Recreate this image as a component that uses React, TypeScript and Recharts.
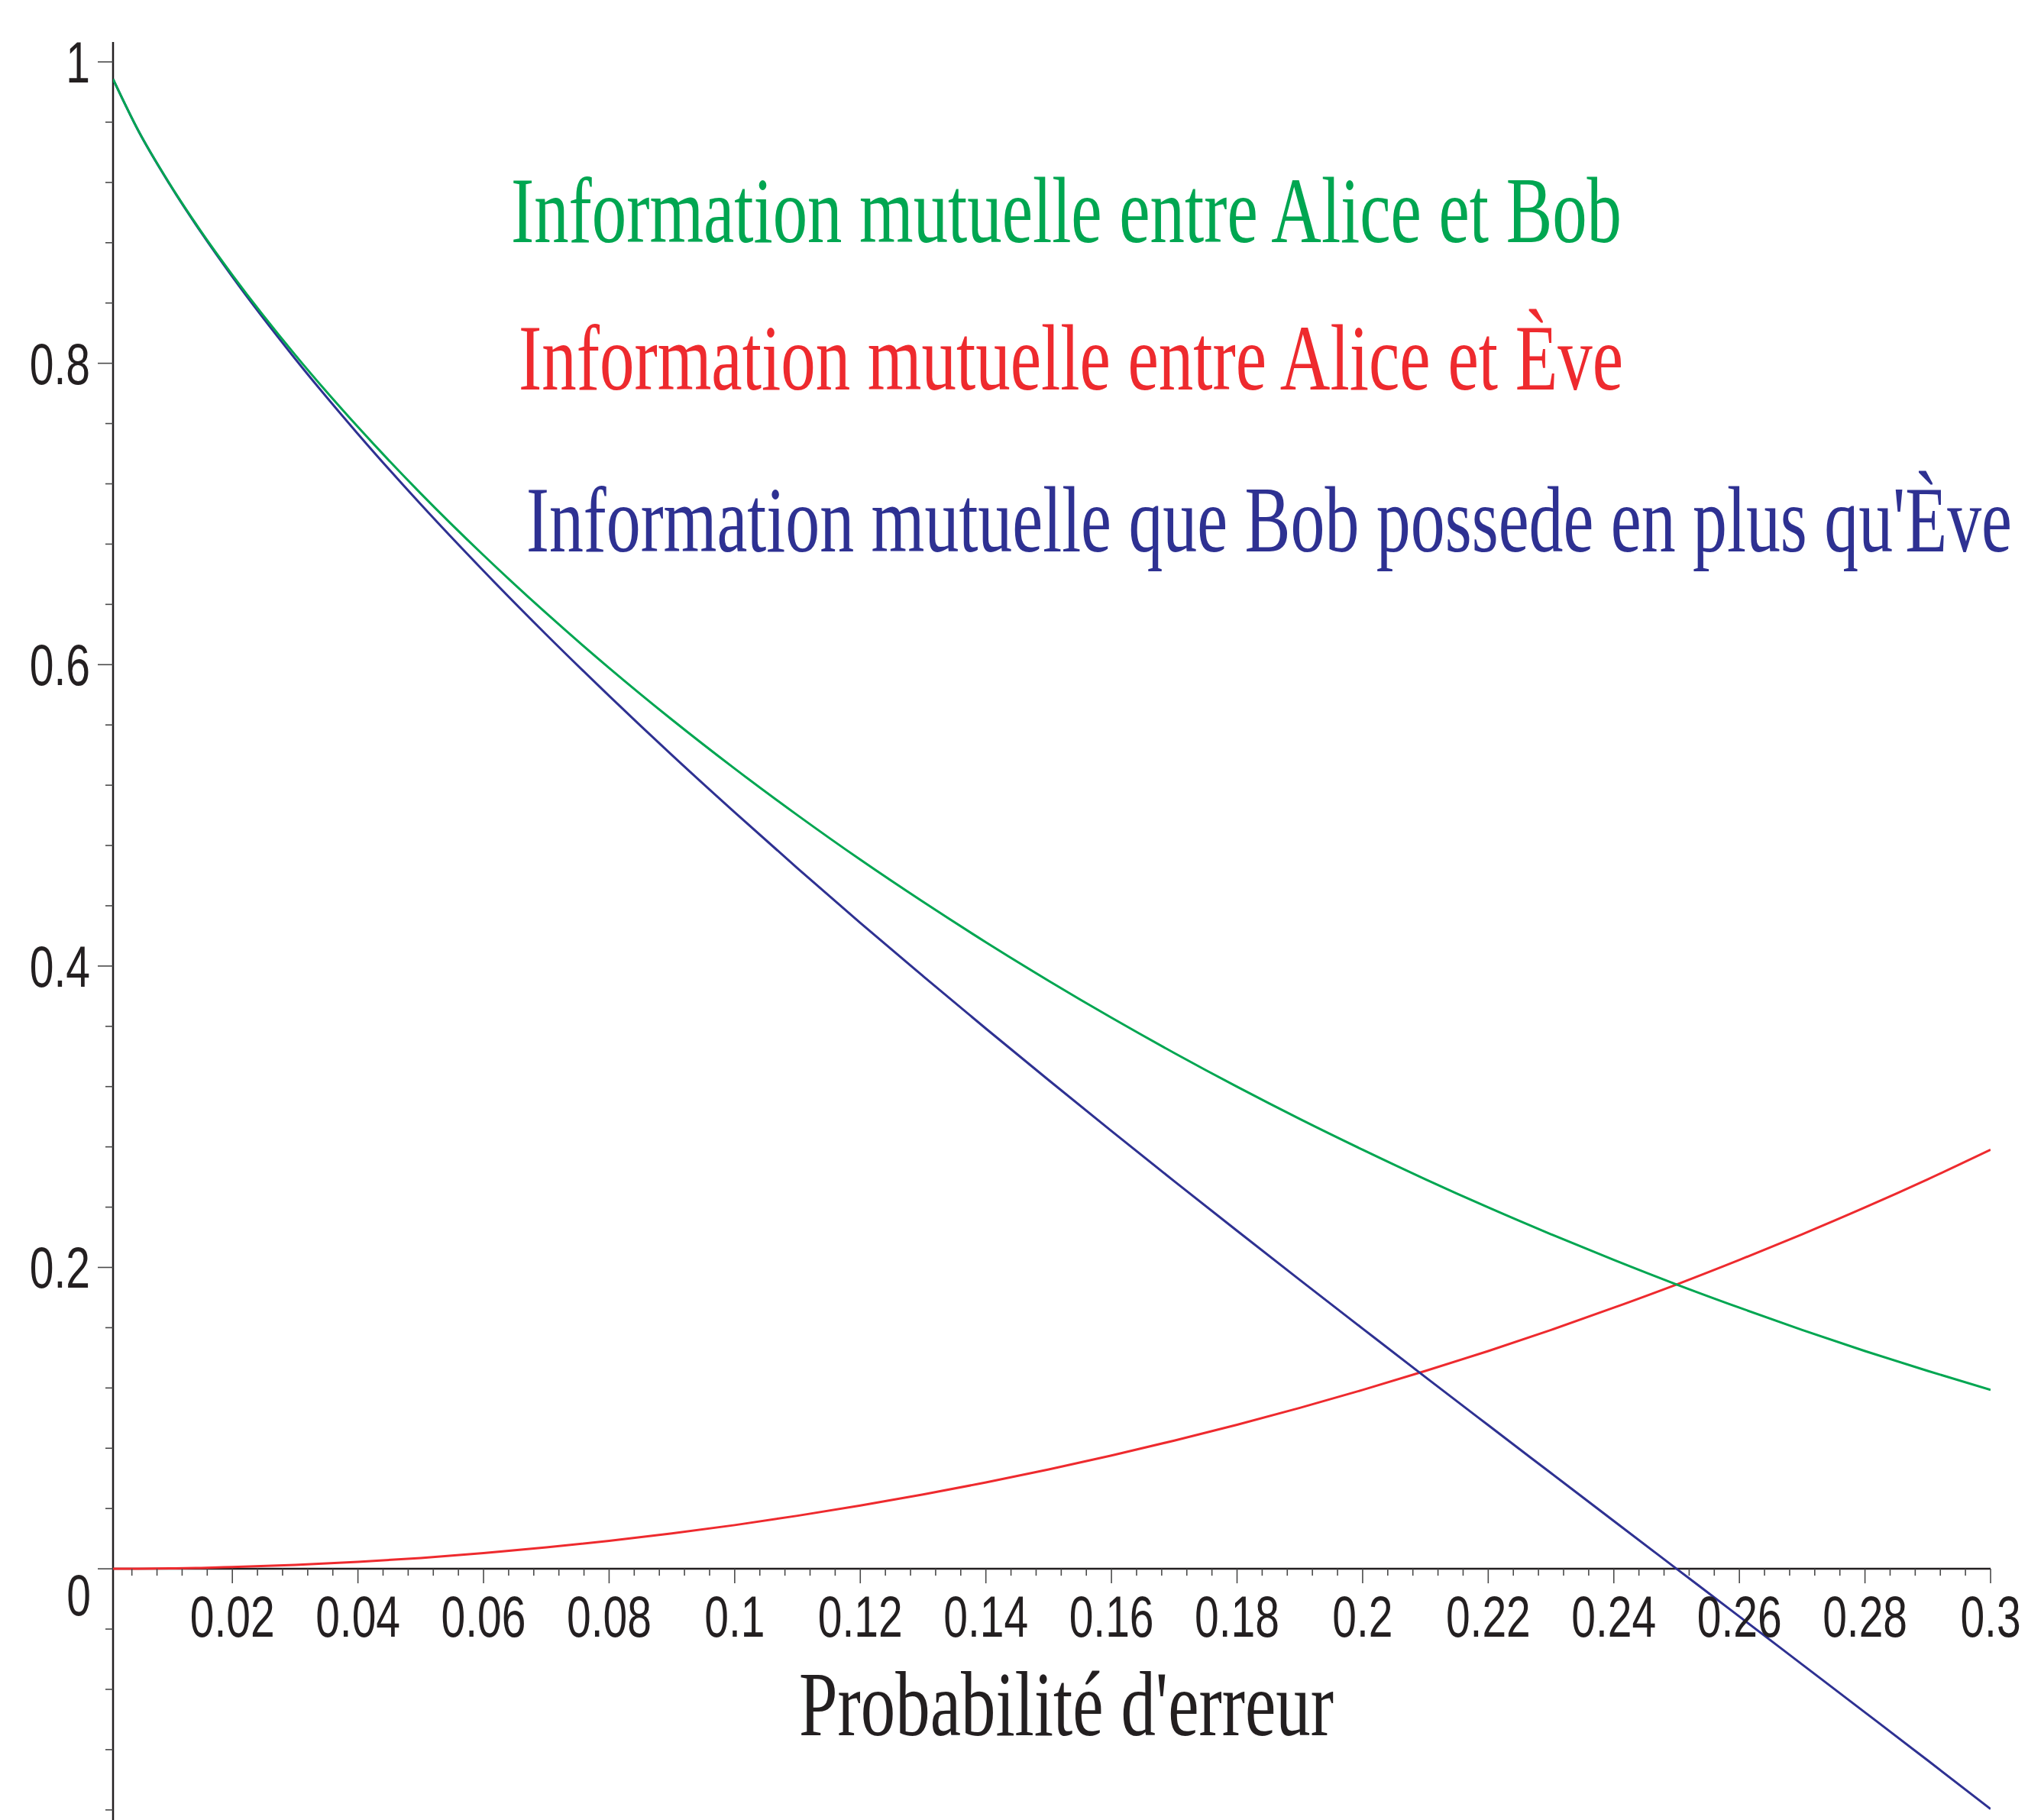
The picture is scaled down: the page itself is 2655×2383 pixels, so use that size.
import React from "react";
import { LineChart, Line, XAxis, YAxis, ReferenceLine, ReferenceDot } from "recharts";

// Error probability samples
const P = [0.001, 0.005, 0.01, 0.015, 0.02, 0.03, 0.04, 0.05, 0.06, 0.07, 0.08, 0.09, 0.1, 0.11, 0.12, 0.13, 0.14, 0.15,
  0.16, 0.17, 0.18, 0.19, 0.2, 0.21, 0.22, 0.23, 0.24, 0.25, 0.26, 0.27, 0.28, 0.29, 0.3];
// Information mutuelle entre Alice et Bob
const GREEN = [0.9886, 0.9546, 0.9192, 0.8876, 0.8586, 0.8056, 0.7577, 0.7136, 0.6726, 0.6341, 0.5978, 0.5635, 0.531,
  0.5001, 0.4706, 0.4426, 0.4158, 0.3902, 0.3657, 0.3423, 0.3199, 0.2985, 0.2781, 0.2585, 0.2398, 0.222, 0.205, 0.1887,
  0.1733, 0.1585, 0.1445, 0.1313, 0.1187];
// Information mutuelle entre Alice et Ève
const RED = [0.0, 0.0001, 0.0003, 0.0006, 0.0012, 0.0026, 0.0046, 0.0072, 0.0104, 0.0142, 0.0185, 0.0235, 0.029, 0.0352,
  0.042, 0.0493, 0.0573, 0.0659, 0.0752, 0.0851, 0.0956, 0.1068, 0.1187, 0.1313, 0.1445, 0.1585, 0.1733, 0.1887, 0.205,
  0.222, 0.2398, 0.2585, 0.2781];
// Information mutuelle que Bob possede en plus qu'Ève
const BLUE = [0.9886, 0.9545, 0.9189, 0.887, 0.8574, 0.803, 0.7531, 0.7064, 0.6622, 0.6199, 0.5793, 0.54, 0.502, 0.4649,
  0.4286, 0.3933, 0.3585, 0.3243, 0.2905, 0.2572, 0.2243, 0.1917, 0.1594, 0.1272, 0.0953, 0.0635, 0.0317, 0.0, -0.0317,
  -0.0635, -0.0953, -0.1272, -0.1594];

const X_MAJOR = [0.02, 0.04, 0.06, 0.08, 0.1, 0.12, 0.14, 0.16, 0.18, 0.2, 0.22, 0.24, 0.26, 0.28, 0.3];
const X_MAJOR_LABELS = ["0.02", "0.04", "0.06", "0.08", "0.1", "0.12", "0.14", "0.16", "0.18", "0.2", "0.22", "0.24",
  "0.26", "0.28", "0.3"];
const X_MINOR = [0.004, 0.008, 0.012, 0.016, 0.024, 0.028, 0.032, 0.036, 0.044, 0.048, 0.052, 0.056, 0.064, 0.068, 0.072,
  0.076, 0.084, 0.088, 0.092, 0.096, 0.104, 0.108, 0.112, 0.116, 0.124, 0.128, 0.132, 0.136, 0.144, 0.148, 0.152, 0.156,
  0.164, 0.168, 0.172, 0.176, 0.184, 0.188, 0.192, 0.196, 0.204, 0.208, 0.212, 0.216, 0.224, 0.228, 0.232, 0.236, 0.244,
  0.248, 0.252, 0.256, 0.264, 0.268, 0.272, 0.276, 0.284, 0.288, 0.292, 0.296];
const Y_MAJOR = [0, 0.2, 0.4, 0.6, 0.8, 1];
const Y_MAJOR_LABELS = ["0", "0.2", "0.4", "0.6", "0.8", "1"];
const Y_MINOR = [-0.16, -0.12, -0.08, -0.04, 0.04, 0.08, 0.12, 0.16, 0.24, 0.28, 0.32, 0.36, 0.44, 0.48, 0.52, 0.56,
  0.64, 0.68, 0.72, 0.76, 0.84, 0.88, 0.92, 0.96];

const X_DOMAIN = [0.001, 0.3];
const Y_DOMAIN = [-0.1667, 1.0132];

const LEGEND = [
  { text: "Information mutuelle entre Alice et Bob", color: "#00a651" },
  { text: "Information mutuelle entre Alice et Ève", color: "#ee2a2e" },
  { text: "Information mutuelle que Bob possede en plus qu'Ève", color: "#2e3192" },
];
const X_LABEL = "Probabilité d'erreur";

const data = P.map((p, i) => ({ p, green: GREEN[i], red: RED[i], blue: BLUE[i] }));

const INK = "#231f20";
const TICK = "#4a4a4a";
const SANS = "'Liberation Sans', Arial, sans-serif";
const SERIF = "'Liberation Serif', 'Times New Roman', serif";

const xTickShape = (label: string | null) => (props: any) => {
  const { cx, cy } = props;
  return (
    <g>
      <line x1={cx} y1={cy} x2={cx} y2={cy + (label ? 19 : 9)} stroke={TICK} strokeWidth={1.6} />
      {label ? (
        <text transform={`translate(${cx} ${cy + 89}) scale(0.75 1)`} textAnchor="middle" fontSize={76}
          fontFamily={SANS} fill={INK}>{label}</text>
      ) : null}
    </g>
  );
};

const yTickShape = (label: string | null) => (props: any) => {
  const { cx, cy } = props;
  const isZero = label === "0";
  return (
    <g>
      <line x1={cx - (label ? 20 : 10)} y1={cy} x2={cx} y2={cy} stroke={TICK} strokeWidth={1.6} />
      {label ? (
        isZero ? (
          <text transform={`translate(${cx - 45} ${cy + 61}) scale(0.75 1)`} textAnchor="middle" fontSize={76}
            fontFamily={SANS} fill={INK}>{label}</text>
        ) : (
          <text transform={`translate(${cx - 30} ${cy + 27}) scale(0.75 1)`} textAnchor="end" fontSize={76}
            fontFamily={SANS} fill={INK}>{label}</text>
        )
      ) : null}
    </g>
  );
};

export default function App() {
  const W = 2655;
  const H = 2383;
  return (
    <div style={{ position: "absolute", left: 0, top: 0, width: W, height: H, background: "#ffffff" }}>
      <LineChart width={W} height={H} data={data} margin={{ top: 55, right: 49, left: 148, bottom: 0 }}>
        <XAxis type="number" dataKey="p" domain={X_DOMAIN} allowDataOverflow hide />
        <YAxis type="number" domain={Y_DOMAIN} allowDataOverflow hide />
        <ReferenceLine y={0} stroke={INK} strokeWidth={2.5} />
        <ReferenceLine x={0.001} stroke={INK} strokeWidth={2.5} />
        {X_MINOR.map((v) => (
          <ReferenceDot key={"xm" + v} x={v} y={0} r={0} shape={xTickShape(null)} ifOverflow="visible" />
        ))}
        {X_MAJOR.map((v, i) => (
          <ReferenceDot key={"xM" + v} x={v} y={0} r={0} shape={xTickShape(X_MAJOR_LABELS[i])} ifOverflow="visible" />
        ))}
        {Y_MINOR.map((v) => (
          <ReferenceDot key={"ym" + v} x={0.001} y={v} r={0} shape={yTickShape(null)} ifOverflow="visible" />
        ))}
        {Y_MAJOR.map((v, i) => (
          <ReferenceDot key={"yM" + v} x={0.001} y={v} r={0} shape={yTickShape(Y_MAJOR_LABELS[i])} ifOverflow="visible" />
        ))}
        <Line type="monotone" dataKey="red" stroke="#ee2a2e" strokeWidth={3} dot={false} isAnimationActive={false} />
        <Line type="monotone" dataKey="blue" stroke="#2e3192" strokeWidth={3} dot={false} isAnimationActive={false} />
        <Line type="monotone" dataKey="green" stroke="#00a651" strokeWidth={3} dot={false} isAnimationActive={false} />
      </LineChart>
      <svg width={W} height={H} style={{ position: "absolute", left: 0, top: 0, pointerEvents: "none" }}>
        <text x={669} y={317} fontSize={122} fontFamily={SERIF} fill={LEGEND[0].color} textLength={1454}
          lengthAdjust="spacingAndGlyphs">{LEGEND[0].text}</text>
        <text x={679} y={510} fontSize={122} fontFamily={SERIF} fill={LEGEND[1].color} textLength={1446}
          lengthAdjust="spacingAndGlyphs">{LEGEND[1].text}</text>
        <text x={689} y={722} fontSize={122} fontFamily={SERIF} fill={LEGEND[2].color} textLength={1945}
          lengthAdjust="spacingAndGlyphs">{LEGEND[2].text}</text>
        <text x={1046} y={2272} fontSize={120} fontFamily={SERIF} fill={INK} textLength={700}
          lengthAdjust="spacingAndGlyphs">{X_LABEL}</text>
      </svg>
    </div>
  );
}
